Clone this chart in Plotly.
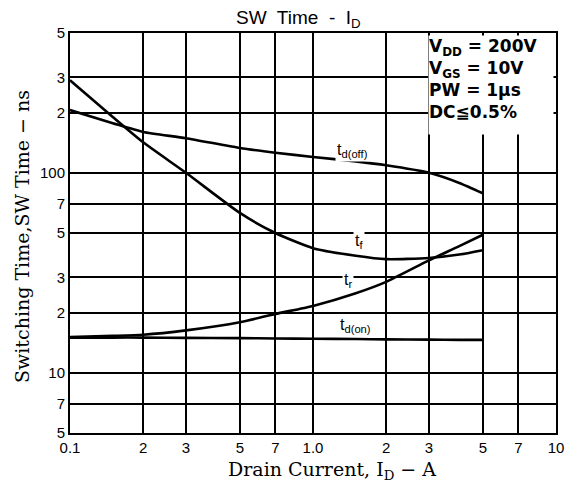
import math
import plotly.graph_objects as go

# ---- data ----
current_A = [0.1, 0.15, 0.2, 0.3, 0.5, 0.7, 1.0, 1.5, 2.0, 3.0, 4.0, 5.0]
td_off_ns = [206, 177, 160, 149, 133, 126, 120, 114, 109, 100, 89, 79]
tf_ns     = [290, 190, 142, 100, 63, 50, 42, 38.5, 37, 37.5, 39, 41]
tr_ns     = [15.1, 15.3, 15.5, 16.3, 17.9, 19.7, 21.6, 25, 28.5, 36.5, 43, 49]
td_on_ns  = [15.0, 15.0, 15.0, 14.95, 14.9, 14.85, 14.8, 14.75, 14.7, 14.65, 14.6, 14.6]

x_tickvals = [0.1, 0.2, 0.3, 0.5, 0.7, 1.0, 2, 3, 5, 7, 10]
x_ticktext = ["0.1", "2", "3", "5", "7", "1.0", "2", "3", "5", "7", "10"]
y_tickvals = [5, 7, 10, 20, 30, 50, 70, 100, 200, 300, 500]
y_ticktext = ["5", "7", "10", "2", "3", "5", "7", "100", "2", "3", "5"]

curve_labels = [
    ("t<sub>d(off)</sub>", 1.46, 130),
    ("t<sub>f</sub>", 1.55, 45.6),
    ("t<sub>r</sub>", 1.39, 28.8),
    ("t<sub>d(on)</sub>", 1.49, 17.3),
]
conditions = "V<sub>DD</sub> = 200V<br>V<sub>GS</sub> = 10V<br>PW = 1µs<br>DC≦0.5%"

fig = go.Figure()
for name, ys in [("td(off)", td_off_ns), ("tf", tf_ns), ("tr", tr_ns), ("td(on)", td_on_ns)]:
    fig.add_trace(go.Scatter(x=current_A, y=ys, mode="lines", name=name,
                             line=dict(color="black", width=2.6, shape="spline", smoothing=0.6),
                             showlegend=False, hoverinfo="skip"))

for txt, xv, yv in curve_labels:
    fig.add_annotation(x=math.log10(xv), y=math.log10(yv), xref="x", yref="y", text=txt,
                       showarrow=False,
                       font=dict(family="Liberation Sans", size=16, color="black"),
                       bgcolor="white", borderpad=1)

fig.add_annotation(x=0.7366, y=0.995, xref="paper", yref="paper", xanchor="left", yanchor="top",
                   text=conditions, showarrow=False, align="left", valign="top",
                   font=dict(family="DejaVu Sans", size=17, color="black", weight="bold"),
                   bgcolor="white", width=124, height=98, borderpad=0)

# title and axis titles
fig.add_annotation(x=0.471, y=1.034, xref="paper", yref="paper", xanchor="center", yanchor="middle",
                   showarrow=False, text="SW  Time  -  I<sub>D</sub>",
                   font=dict(family="Liberation Sans", size=19, color="black"))
fig.add_annotation(x=0.539, y=-0.0925, xref="paper", yref="paper", xanchor="center", yanchor="middle",
                   showarrow=False, text="Drain Current, I<sub>D</sub> − A",
                   font=dict(family="DejaVu Serif", size=19, color="black"))
fig.add_annotation(x=-0.0988, y=0.4925, xref="paper", yref="paper", xanchor="center", yanchor="middle",
                   showarrow=False, textangle=-90, text="Switching Time,SW Time − ns",
                   font=dict(family="DejaVu Serif", size=19, color="black"))

fig.update_layout(
    width=565, height=478,
    margin=dict(l=62, r=17, t=25, b=53, autoexpand=False),
    paper_bgcolor="white", plot_bgcolor="white",
    xaxis=dict(type="log", range=[-1, 1], tickvals=x_tickvals, ticktext=x_ticktext,
               showgrid=True, gridcolor="black", gridwidth=1.6, automargin=False,
               showline=True, linecolor="black", linewidth=2, mirror=True, ticks="",
               tickfont=dict(family="Liberation Sans", size=15, color="black"),
               zeroline=False),
    yaxis=dict(type="log", range=[0.69897, 2.69897], tickvals=y_tickvals, ticktext=y_ticktext,
               showgrid=True, gridcolor="black", gridwidth=1.6, automargin=False,
               showline=True, linecolor="black", linewidth=2, mirror=True, ticks="",
               tickfont=dict(family="Liberation Sans", size=15, color="black"),
               zeroline=False),
)

fig.write_html("out.html")
